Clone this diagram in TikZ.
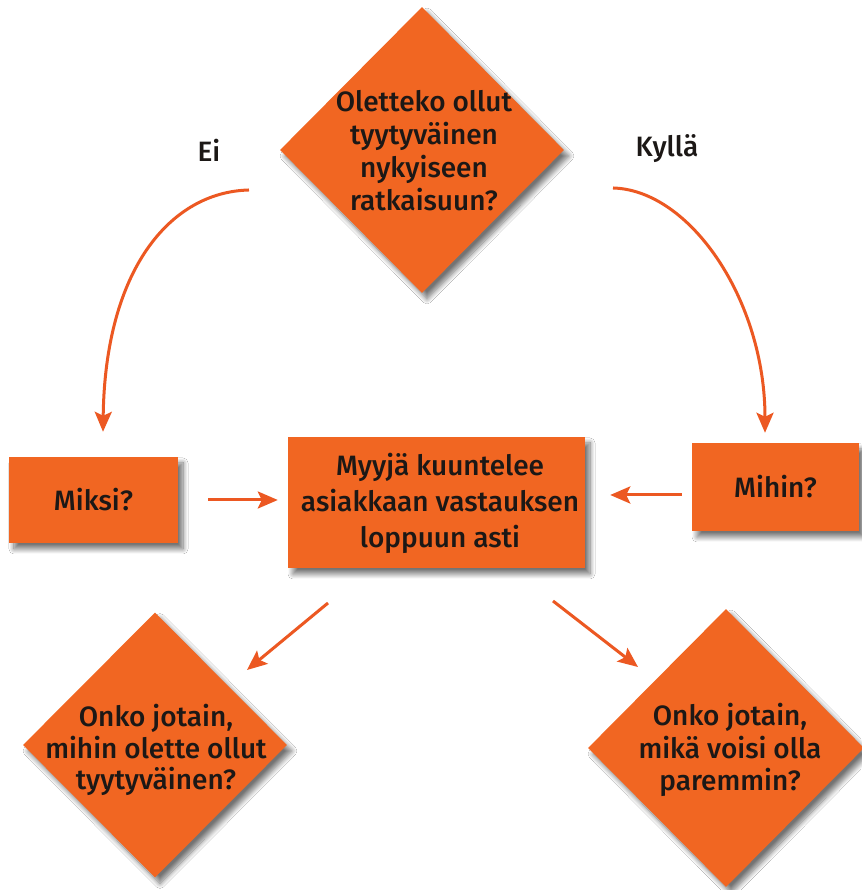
\documentclass[tikz,border=0pt]{standalone}
\usepackage{fontspec}
\setmainfont{Fira Sans}[UprightFont={* Medium}]
\usetikzlibrary{shapes.geometric,arrows.meta,shadows.blur}

\definecolor{boxorange}{RGB}{241,102,34}
\definecolor{arroworange}{RGB}{236,88,34}
\definecolor{inkdark}{RGB}{28,24,22}

\tikzset{
  soft/.style={blur shadow={shadow xshift=5pt, shadow yshift=-6pt,
      shadow blur steps=10, shadow blur radius=5pt, shadow opacity=55}},
  qbox/.style={rectangle, fill=boxorange, draw=none, inner sep=0pt, soft},
  qdia/.style={diamond, fill=boxorange, draw=none, inner sep=0pt, soft},
  words/.style={text=inkdark, align=center, inner sep=0pt,
      font=\fontsize{28}{33}\selectfont},
  tag/.style={text=inkdark, inner sep=0pt, font=\fontsize{28}{33}\selectfont},
  arr/.style={draw=arroworange, line width=3pt,
      -{Stealth[length=20pt, width=17pt, inset=4pt]}},
}

\begin{document}
\begin{tikzpicture}[x=1pt, y=1pt]
  \fill[white] (0,0) rectangle (861,890);
  \useasboundingbox (0,0) rectangle (861,890);

  % question at the top
  \node[qdia, minimum width=284pt, minimum height=286pt] (top) at (422,740) {};
  \node[words] (toptext) at (424,739)
    {Oletteko ollut\\tyytyväinen\\nykyiseen\\ratkaisuun?};

  % answer labels
  \node[tag, anchor=base] (ei) at (209,728) {Ei};
  \node[tag, anchor=base] (kylla) at (667,733) {Kyllä};

  % follow-up boxes
  \node[qbox, minimum width=169pt, minimum height=86pt] (miksi) at (93.5,390) {};
  \node[words] (miksitext) at (miksi) {Miksi?};

  \node[qbox, minimum width=167pt, minimum height=88pt] (mihin) at (775.5,403) {};
  \node[words] (mihintext) at (mihin) {Mihin?};

  \node[qbox, minimum width=297pt, minimum height=131pt] (listen) at (436.5,387.5) {};
  \node[words, font=\fontsize{28}{36}\selectfont] (listentext) at (440,387)
    {Myyjä kuuntelee\\asiakkaan vastauksen\\loppuun asti};

  % closing questions
  \node[qdia, minimum width=264pt, minimum height=265pt] (ql) at (155,145) {};
  \node[words, font=\fontsize{28}{31.5}\selectfont] (qltext) at (156,140)
    {Onko jotain,\\mihin olette ollut\\tyytyväinen?};

  \node[qdia, minimum width=276pt, minimum height=278pt] (qr) at (726,142) {};
  \node[words, font=\fontsize{28}{32.5}\selectfont] (qrtext) at (730,140)
    {Onko jotain,\\mikä voisi olla\\paremmin?};

  % curved answer arrows
  \coordinate (eistart) at (249,700);
  \coordinate (kyllastart) at (613,702);
  \draw[arr] (eistart) .. controls (170,698) and (105,620)
    .. ([xshift=9.5pt, yshift=25pt]miksi.north);
  \draw[arr] (kyllastart) .. controls (690,700) and (765,590)
    .. ([xshift=-10.5pt, yshift=10pt]mihin.north);

  % arrows into the middle box
  \draw[arr, shorten <=30pt, shorten >=10pt] (miksi.east) -- (miksi.east -| listen.west);
  \draw[arr, shorten <=10pt, shorten >=25pt]
    ([yshift=-8pt]mihin.west) -- ([yshift=-8pt]mihin.west -| listen.east);

  % diagonal arrows to the closing questions
  \coordinate (dlstart) at (328,287);
  \coordinate (dlend) at (247,220);
  \coordinate (drstart) at (553,289);
  \coordinate (drend) at (638,223);
  \draw[arr] (dlstart) -- (dlend);
  \draw[arr] (drstart) -- (drend);
\end{tikzpicture}
\end{document}
